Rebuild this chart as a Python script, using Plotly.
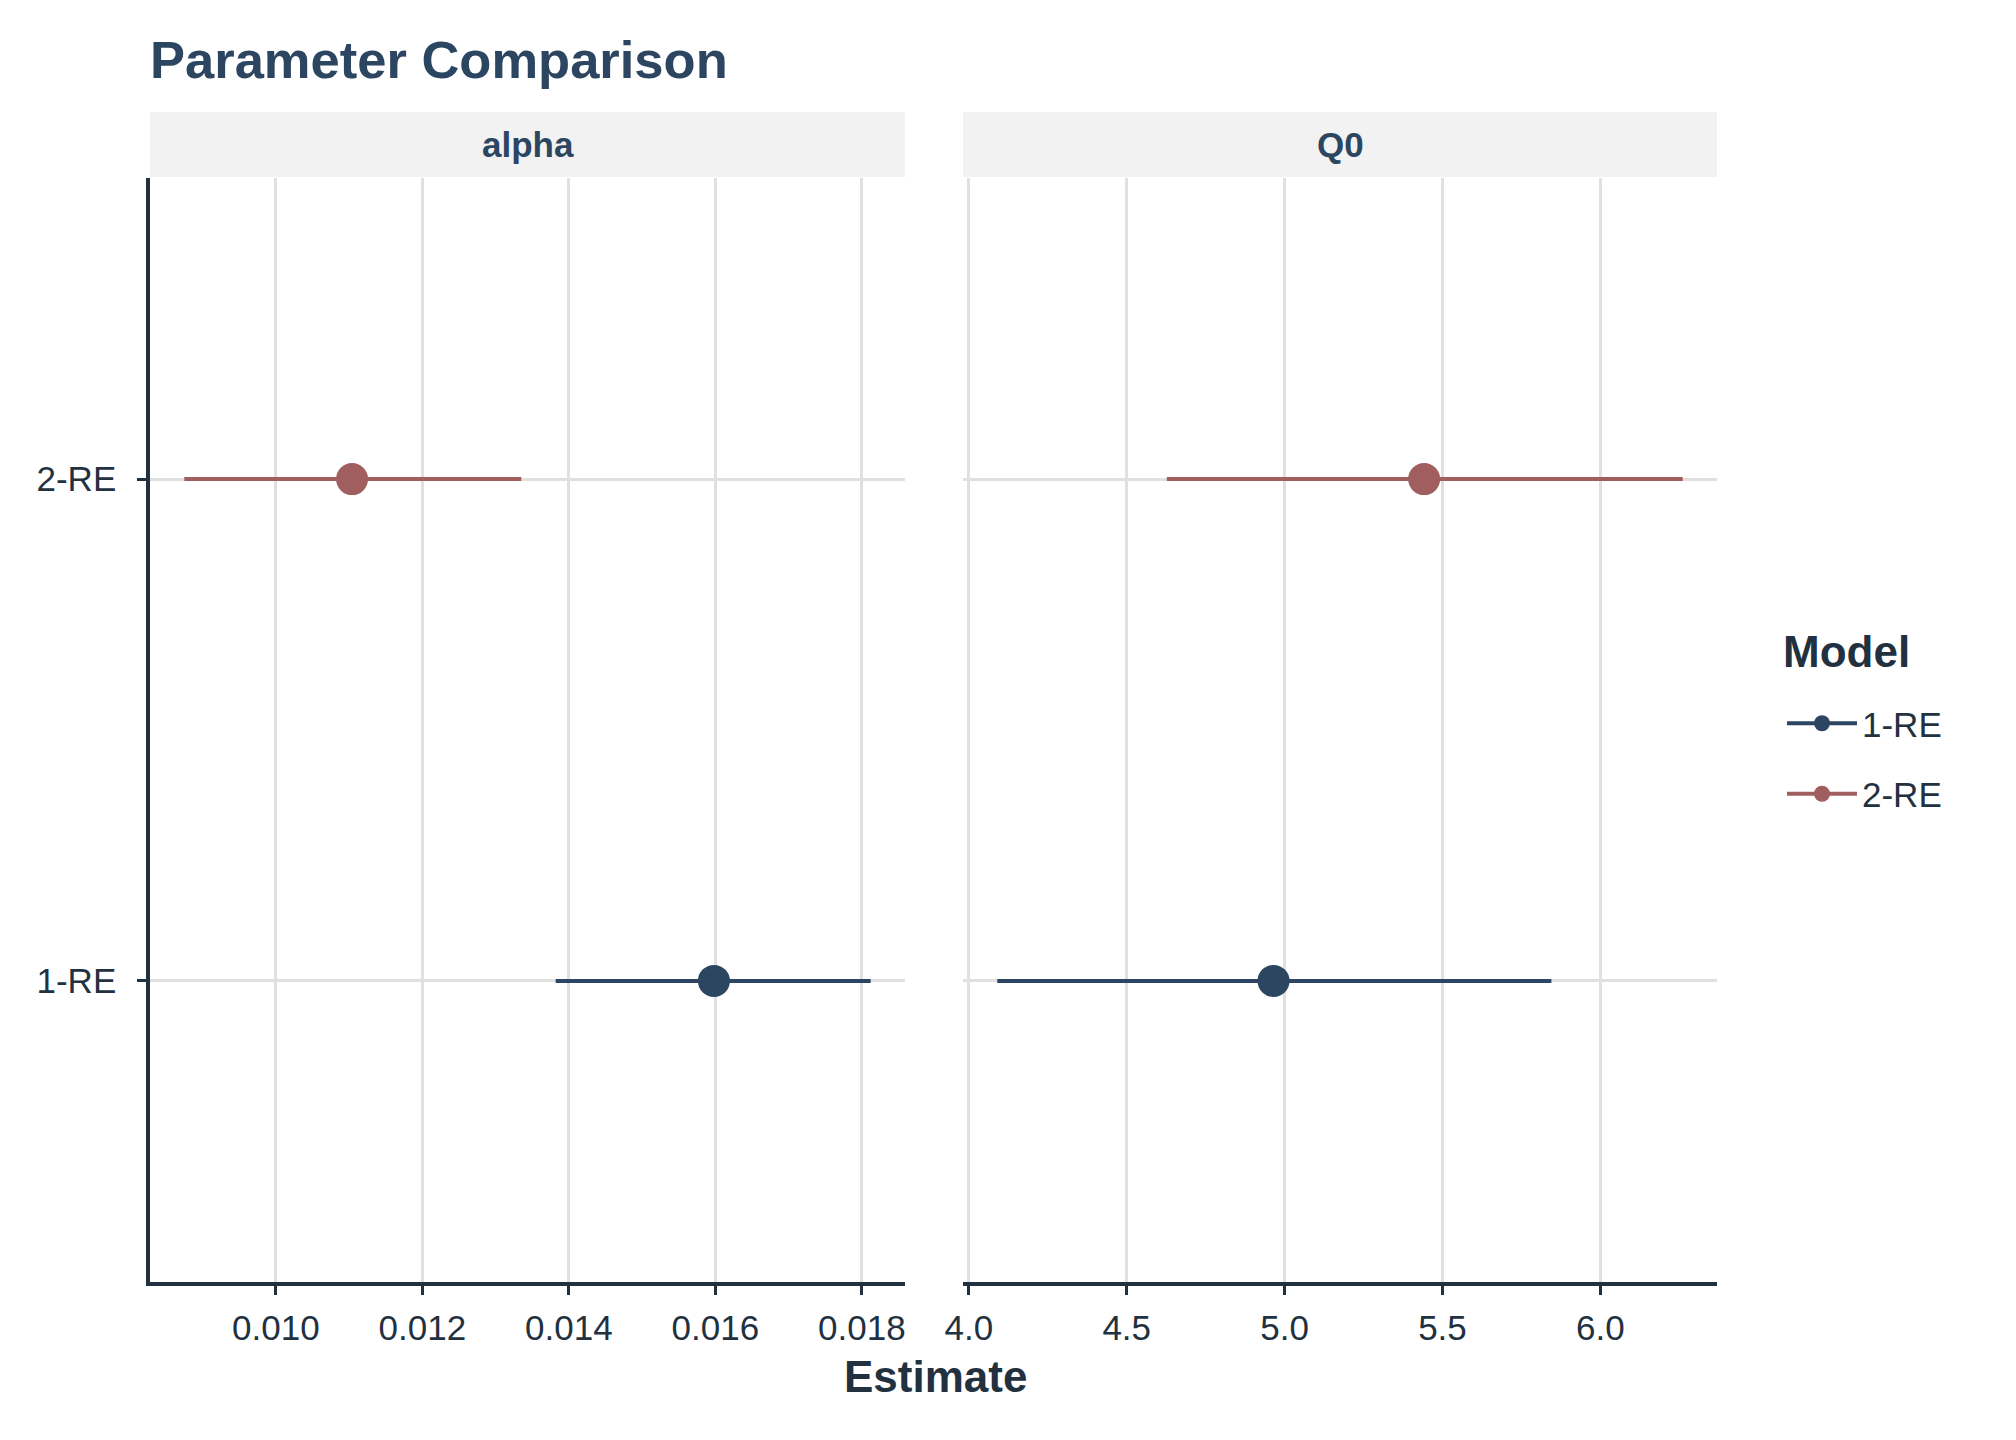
import plotly.graph_objects as go

# ---- data ----
parameters = ["alpha", "Q0"]
models = ["1-RE", "2-RE"]
model_colors = ["#2C4560", "#A05F5E"]

alpha_est = [0.01598, 0.01104]
alpha_lo = [0.01382, 0.00875]
alpha_hi = [0.01812, 0.01335]

q0_est = [4.965, 5.442]
q0_lo = [4.090, 4.627]
q0_hi = [5.845, 6.261]

alpha_ticks = [0.010, 0.012, 0.014, 0.016, 0.018]
q0_ticks = [4.0, 4.5, 5.0, 5.5, 6.0]

# ---- style ----
W, H = 2016, 1440
FONT = "Liberation Sans"
DARK = "#22313F"
TITLE_C = "#2C4560"
GRID = "#E0E0E0"
STRIP = "#F2F2F2"
TICK_SIZE = 35

panel_x = [(150, 905), (963, 1717)]
panel_y = (178, 1282)
strip_y = (112, 177)


def px_x(p):
    return p / W


def px_y(p):
    return 1 - p / H


def expand(lo, hi, f=0.05):
    d = hi - lo
    return [lo - f * d, hi + f * d]


fig = go.Figure()

panel_data = [
    (alpha_est, alpha_lo, alpha_hi, "x", "y"),
    (q0_est, q0_lo, q0_hi, "x2", "y2"),
]

for pi, (est, lo, hi, xa, ya) in enumerate(panel_data):
    for mi, m in enumerate(models):
        fig.add_trace(
            go.Scatter(
                x=[est[mi]],
                y=[m],
                mode="lines+markers",
                name=m,
                legendgroup=m,
                showlegend=(pi == 0),
                marker=dict(size=32, color=model_colors[mi]),
                line=dict(width=4, color=model_colors[mi]),
                error_x=dict(
                    type="data",
                    symmetric=False,
                    array=[hi[mi] - est[mi]],
                    arrayminus=[est[mi] - lo[mi]],
                    width=0,
                    thickness=4,
                    color=model_colors[mi],
                ),
                xaxis=xa,
                yaxis=ya,
                hoverinfo="x+y+name",
            )
        )

ydom = [px_y(panel_y[1]), px_y(panel_y[0])]

common_x = dict(
    showgrid=True,
    gridcolor=GRID,
    gridwidth=2.5,
    zeroline=False,
    showline=True,
    linecolor=DARK,
    linewidth=3.5,
    ticks="outside",
    ticklen=9,
    tickwidth=3,
    tickcolor=DARK,
    tickfont=dict(family=FONT, size=TICK_SIZE, color=DARK),
    ticklabelstandoff=3,
)

fig.update_layout(
    width=W,
    height=H,
    margin=dict(l=0, r=0, t=0, b=0, pad=0, autoexpand=False),
    paper_bgcolor="white",
    plot_bgcolor="white",
    font=dict(family=FONT, color=DARK),
    xaxis=dict(
        common_x,
        domain=[px_x(panel_x[0][0]), px_x(panel_x[0][1])],
        range=expand(min(alpha_lo), max(alpha_hi)),
        tickvals=alpha_ticks,
        ticktext=[f"{v:.3f}" for v in alpha_ticks],
        anchor="y",
    ),
    xaxis2=dict(
        common_x,
        domain=[px_x(panel_x[1][0]), px_x(panel_x[1][1])],
        range=expand(min(q0_lo), max(q0_hi)),
        tickvals=q0_ticks,
        ticktext=[f"{v:.1f}" for v in q0_ticks],
        anchor="y2",
    ),
    yaxis=dict(
        domain=ydom,
        type="category",
        categoryorder="array",
        categoryarray=models,
        range=[-0.6, 1.6],
        showgrid=True,
        gridcolor=GRID,
        gridwidth=2.5,
        zeroline=False,
        showline=True,
        linecolor=DARK,
        linewidth=3.5,
        ticks="outside",
        ticklen=9,
        tickwidth=3,
        tickcolor=DARK,
        tickfont=dict(family=FONT, size=TICK_SIZE, color=DARK),
        anchor="x",
        ticklabelstandoff=14,
    ),
    yaxis2=dict(
        domain=ydom,
        type="category",
        categoryorder="array",
        categoryarray=models,
        range=[-0.6, 1.6],
        matches="y",
        showgrid=True,
        gridcolor=GRID,
        gridwidth=2.5,
        zeroline=False,
        showline=False,
        showticklabels=False,
        ticks="",
        anchor="x2",
    ),
    showlegend=True,
    legend=dict(
        x=px_x(1782),
        y=px_y(694),
        xanchor="left",
        yanchor="top",
        bgcolor="rgba(0,0,0,0)",
        font=dict(family=FONT, size=TICK_SIZE, color=DARK),
        traceorder="grouped",
        tracegroupgap=22,
        itemwidth=70,
    ),
)

# facet strips
shapes = []
annotations = []
for (x0, x1), name in zip(panel_x, parameters):
    shapes.append(
        dict(
            type="rect",
            xref="paper",
            yref="paper",
            x0=px_x(x0),
            x1=px_x(x1),
            y0=px_y(strip_y[1]),
            y1=px_y(strip_y[0]),
            fillcolor=STRIP,
            line=dict(width=0),
            layer="below",
        )
    )
    annotations.append(
        dict(
            text=f"<b>{name}</b>",
            xref="paper",
            yref="paper",
            x=px_x((x0 + x1) / 2),
            y=px_y((strip_y[0] + strip_y[1]) / 2),
            xanchor="center",
            yanchor="middle",
            showarrow=False,
            font=dict(family=FONT, size=35, color=TITLE_C),
        )
    )

# title
annotations.append(
    dict(
        text="<b>Parameter Comparison</b>",
        xref="paper",
        yref="paper",
        x=px_x(148),
        y=px_y(60),
        xanchor="left",
        yanchor="middle",
        showarrow=False,
        font=dict(family=FONT, size=52.5, color=TITLE_C),
    )
)

# legend title
annotations.append(
    dict(
        text="<b>Model</b>",
        xref="paper",
        yref="paper",
        x=px_x(1781),
        y=px_y(652),
        xanchor="left",
        yanchor="middle",
        showarrow=False,
        font=dict(family=FONT, size=44, color=DARK),
    )
)

# x-axis title
annotations.append(
    dict(
        text="<b>Estimate</b>",
        xref="paper",
        yref="paper",
        x=px_x(935),
        y=px_y(1376),
        xanchor="center",
        yanchor="middle",
        showarrow=False,
        font=dict(family=FONT, size=44, color=DARK),
    )
)

fig.update_layout(shapes=shapes, annotations=annotations)

post = (
    "document.documentElement.style.margin='0';"
    "document.documentElement.style.padding='0';"
    "document.body.style.margin='0';"
    "document.body.style.padding='0';"
    "document.body.style.overflow='hidden';"
    "var gd=document.getElementById('{plot_id}');"
    "gd.style.position='fixed';gd.style.left='0px';gd.style.top='0px';"
)

fig.write_html("out.html", config={"displayModeBar": False}, post_script=post)
